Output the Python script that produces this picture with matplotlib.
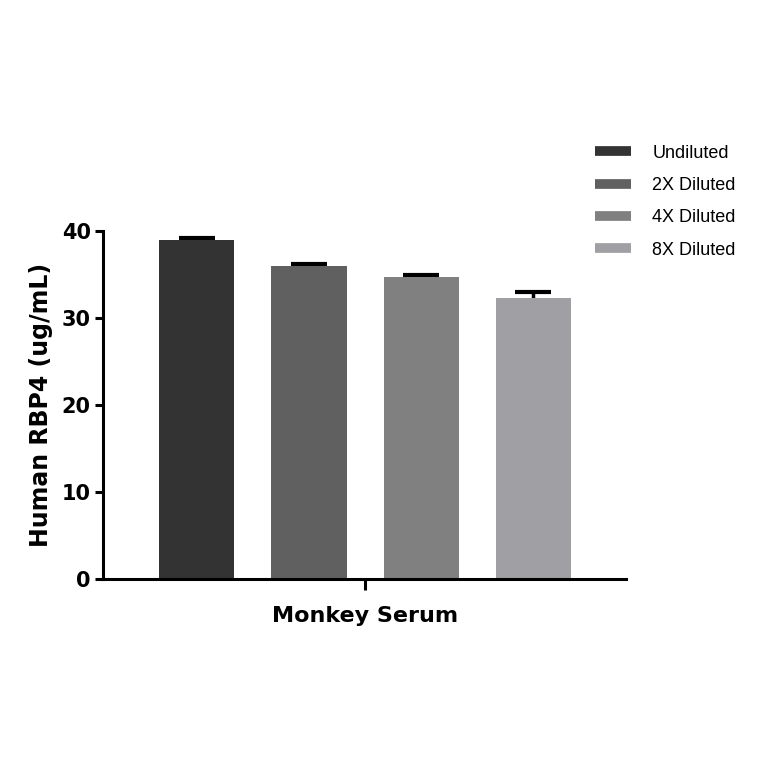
import numpy as np
import matplotlib.pyplot as plt
from matplotlib.lines import Line2D

# values
groups = ['Undiluted', '2X Diluted', '4X Diluted', '8X Diluted']
means = [38.9, 35.9, 34.7, 32.3]
errs = [0.3, 0.25, 0.25, 0.7]
colours = ['#333333', '#606060', '#808080', '#a0a0a4']
xlabel = 'Monkey Serum'
ylabel = 'Human RBP4 (ug/mL)'

plt.rcParams['font.family'] = ['DejaVu Sans']

fig = plt.figure(figsize=(7.64, 7.64), dpi=100)
ax = fig.add_axes([0.135, 0.242, 0.685, 0.456])

x = np.arange(len(groups))
# symmetric error bars drawn under the bars, so only the upper half shows
ax.errorbar(x, means, yerr=errs, fmt='none', ecolor='black',
            elinewidth=2.5, capsize=13, capthick=3, zorder=1)
ax.bar(x, means, width=0.67, color=colours, zorder=2)

ax.set_xlim(-0.835, 3.83)
ax.set_ylim(0, 40)
ax.set_yticks([0, 10, 20, 30, 40])
ax.set_xticks([1.5])
ax.set_xticklabels([])
ax.spines['top'].set_visible(False)
ax.spines['right'].set_visible(False)
ax.spines['left'].set_linewidth(2.2)
ax.spines['bottom'].set_linewidth(2.2)
ax.tick_params(axis='y', width=2.2, length=6, pad=3)
ax.tick_params(axis='x', width=2.2, length=8)
for lab in ax.get_yticklabels():
    lab.set_fontweight('bold')
    lab.set_fontsize(15)
ax.set_xlabel(xlabel, fontsize=16, fontweight='bold', labelpad=8)
ax.set_ylabel(ylabel, fontsize=17, fontweight='bold', labelpad=6)

handles = [Line2D([0], [0], color=c, lw=7, solid_capstyle='butt') for c in colours]
fig.legend(handles, groups, loc='upper left', bbox_to_anchor=(0.758, 0.832),
           frameon=False, handlelength=2.0, handletextpad=1.15,
           labelspacing=0.85, prop={'family': 'Liberation Sans', 'size': 13})

fig.savefig('out.png', dpi=100)
